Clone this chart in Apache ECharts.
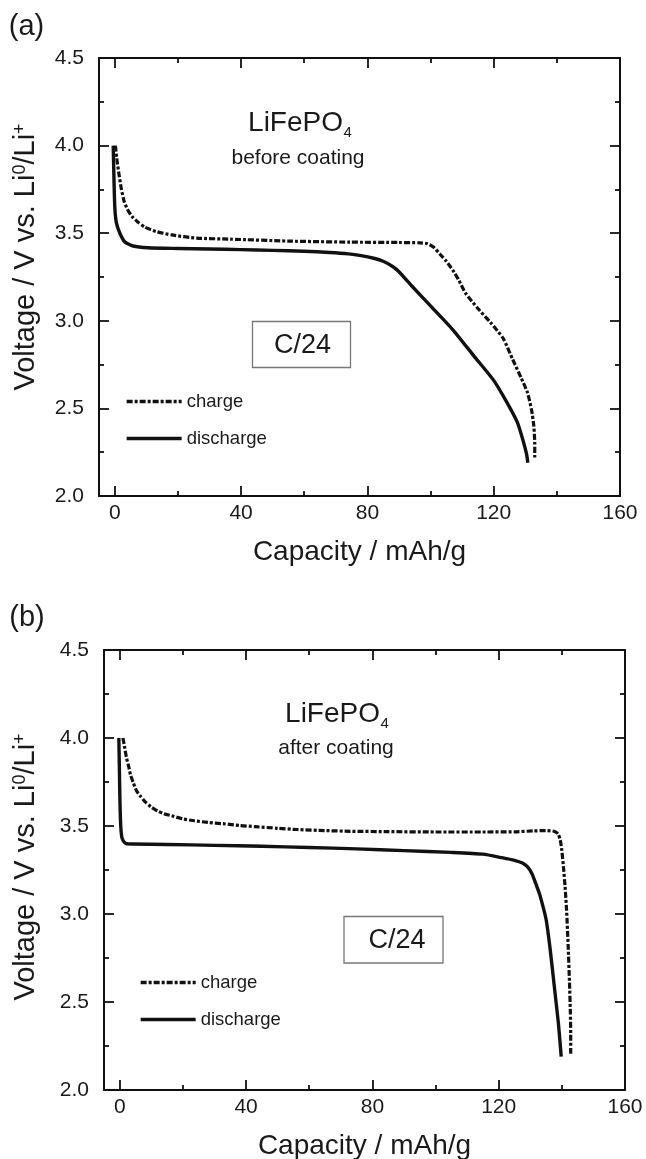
<!DOCTYPE html>
<html>
<head>
<meta charset="utf-8">
<script src="https://cdn.jsdelivr.net/npm/echarts@6/dist/echarts.min.js"></script>
<style>
  html, body { margin: 0; padding: 0; background: #ffffff; }
  #chart { width: 646px; height: 1159px; }
</style>
</head>
<body>
<div id="chart"></div>
<script>
// Capacity axis ticks (mAh/g)
const capTicks = [0, 40, 80, 120, 160];
const capMinorTicks = [20, 60, 100, 140];

// (a) LiFePO4 before coating, C/24
const chargeBeforeCap = [0.2, 0.6, 1.3, 2.1, 3.0, 4.2, 5.5, 7.2, 9.5, 13, 18, 26, 36.6, 55, 74.5, 90, 96.7, 99, 101, 103, 105, 107, 109, 111, 115, 119, 123, 126, 128.8, 130.7, 132, 132.7, 133, 133];
const chargeBeforeV = [4.00, 3.93, 3.84, 3.75, 3.68, 3.63, 3.595, 3.565, 3.535, 3.51, 3.49, 3.472, 3.466, 3.455, 3.449, 3.447, 3.445, 3.44, 3.42, 3.38, 3.34, 3.29, 3.23, 3.16, 3.07, 2.99, 2.90, 2.78, 2.67, 2.59, 2.49, 2.40, 2.30, 2.22];
const dischargeBeforeCap = [-0.5, -0.3, 0, 0.5, 1.6, 3.2, 5.8, 10.5, 20, 30, 40, 50, 60, 68, 74, 78, 82, 85, 88, 90, 94, 100, 107, 113.7, 120, 124, 127.5, 129.4, 130.4, 130.8];
const dischargeBeforeV = [4.00, 3.84, 3.65, 3.56, 3.50, 3.45, 3.427, 3.417, 3.413, 3.41, 3.406, 3.402, 3.397, 3.39, 3.382, 3.372, 3.357, 3.34, 3.31, 3.28, 3.20, 3.085, 2.95, 2.80, 2.66, 2.54, 2.42, 2.31, 2.24, 2.19];

// (b) LiFePO4 after coating, C/24
const chargeAfterCap = [1.0, 1.5, 2.1, 2.8, 3.4, 4.3, 5.3, 6.5, 7.9, 9.8, 11.9, 14, 17, 20, 23.6, 28, 32.7, 38, 43, 50, 56, 65, 73, 85, 100, 115, 125, 131, 135, 137.5, 138.8, 139.5, 140, 140.5, 141, 141.5, 142, 142.4, 142.7, 142.8, 142.8];
const chargeAfterV = [4.00, 3.95, 3.89, 3.84, 3.79, 3.745, 3.70, 3.67, 3.64, 3.61, 3.586, 3.57, 3.555, 3.54, 3.53, 3.52, 3.513, 3.503, 3.496, 3.487, 3.48, 3.474, 3.47, 3.468, 3.466, 3.466, 3.467, 3.472, 3.474, 3.47, 3.455, 3.42, 3.36, 3.27, 3.16, 3.02, 2.82, 2.62, 2.44, 2.32, 2.20];
const dischargeAfterCap = [-0.3, -0.15, 0.05, 0.3, 0.6, 1.1, 2, 4, 15, 30, 45, 60, 75, 90, 105, 115, 121, 125, 127.5, 129, 130.5, 132, 133, 135, 136.3, 137.6, 138.9, 139.8];
const dischargeAfterV = [4.00, 3.85, 3.64, 3.50, 3.44, 3.415, 3.40, 3.398, 3.395, 3.39, 3.385, 3.378, 3.37, 3.36, 3.35, 3.34, 3.32, 3.305, 3.29, 3.27, 3.23, 3.16, 3.11, 2.97, 2.80, 2.59, 2.38, 2.19];

const seriesNames = ['charge', 'discharge'];

const FONT = 'Liberation Sans, Arial, Helvetica, sans-serif';
const INK = '#111111';
const TEXT = '#1a1a1a';

function zip(xs, ys) { return xs.map((x, i) => [x, ys[i]]); }

function xAxes(gridIndex) {
  const base = { gridIndex, type: 'value', min: -5, max: 160, splitLine: { show: false } };
  const line = { show: true, onZero: false, lineStyle: { color: INK, width: 2 } };
  const tickStyle = { color: INK, width: 1.8 };
  return [
    Object.assign({}, base, {
      position: 'bottom', axisLine: line,
      axisTick: { show: true, inside: true, length: 10, customValues: capTicks, lineStyle: tickStyle },
      axisLabel: { customValues: capTicks, fontSize: 21, color: TEXT, fontFamily: FONT, margin: 7 }
    }),
    Object.assign({}, base, {
      position: 'bottom', axisLine: { show: false },
      axisTick: { show: true, inside: true, length: 5, customValues: capMinorTicks, lineStyle: tickStyle },
      axisLabel: { show: false }
    }),
    Object.assign({}, base, {
      position: 'top', axisLine: line,
      axisTick: { show: true, inside: true, length: 10, customValues: capTicks, lineStyle: tickStyle },
      axisLabel: { show: false }
    }),
    Object.assign({}, base, {
      position: 'top', axisLine: { show: false },
      axisTick: { show: true, inside: true, length: 5, customValues: capMinorTicks, lineStyle: tickStyle },
      axisLabel: { show: false }
    })
  ];
}

function yAxes(gridIndex) {
  const base = {
    gridIndex, type: 'value', min: 2, max: 4.5, interval: 0.5,
    axisLine: { show: true, onZero: false, lineStyle: { color: INK, width: 2 } },
    axisTick: { show: true, inside: true, length: 10, lineStyle: { color: INK, width: 1.8 } },
    minorTick: { show: true, splitNumber: 2, length: 5, lineStyle: { color: INK, width: 1.8 } },
    splitLine: { show: false }, minorSplitLine: { show: false }
  };
  return [
    Object.assign({}, base, {
      position: 'left',
      axisLabel: { fontSize: 21, color: TEXT, fontFamily: FONT, margin: 15, formatter: v => v.toFixed(1) }
    }),
    Object.assign({}, base, { position: 'right', axisLabel: { show: false } })
  ];
}

function curve(name, cap, volt, xIdx, yIdx, dashed) {
  return {
    name, type: 'line', xAxisIndex: xIdx, yAxisIndex: yIdx,
    data: zip(cap, volt), symbol: 'none', showSymbol: false, animation: false,
    smooth: 0.2,
    lineStyle: { color: INK, width: dashed ? 3.2 : 3.4, type: dashed ? [6, 2, 3, 2] : 'solid', join: 'round' },
    // no point markers: keep the legend swatch line-only
    itemStyle: { color: INK, opacity: 0 }
  };
}

function legendAt(left, top) {
  return {
    data: seriesNames, orient: 'vertical', left, top, padding: 0,
    itemWidth: 55, itemHeight: 14, itemGap: 18, selectedMode: false,
    itemStyle: { opacity: 0 },
    lineStyle: { width: 3.3 },
    textStyle: { fontSize: 18.5, color: TEXT, fontFamily: FONT }
  };
}

function txt(x, y, text, size, opts) {
  return {
    type: 'text', x, y, silent: true,
    style: Object.assign({ text, fontSize: size, fontFamily: FONT, fill: TEXT, align: 'center', verticalAlign: 'middle' }, opts || {})
  };
}

function yTitle(x, y) {
  return {
    type: 'text', x, y, rotation: Math.PI / 2, silent: true,
    style: {
      text: 'Voltage / V vs. Li{s|0}/Li{s|+}', fontSize: 29, fontFamily: FONT, fill: TEXT,
      align: 'center', verticalAlign: 'middle',
      rich: { s: { fontSize: 18, fontFamily: FONT, fill: TEXT, verticalAlign: 'top' } }
    }
  };
}

const option = {
  backgroundColor: '#ffffff',
  animation: false,
  grid: [
    { left: 99, top: 58, width: 521, height: 438, outerBoundsMode: 'none' },
    { left: 104, top: 650, width: 521, height: 440, outerBoundsMode: 'none' }
  ],
  xAxis: xAxes(0).concat(xAxes(1)),
  yAxis: yAxes(0).concat(yAxes(1)),
  legend: [legendAt(125, 392), legendAt(139, 973)],
  series: [
    curve(seriesNames[0], chargeBeforeCap, chargeBeforeV, 0, 0, true),
    curve(seriesNames[1], dischargeBeforeCap, dischargeBeforeV, 0, 0, false),
    curve(seriesNames[0], chargeAfterCap, chargeAfterV, 4, 2, true),
    curve(seriesNames[1], dischargeAfterCap, dischargeAfterV, 4, 2, false)
  ],
  graphic: { elements: [
    // panel letters
    txt(26.5, 27, '(a)', 29),
    txt(27, 617.5, '(b)', 29),
    // axis titles
    txt(359.5, 552, 'Capacity / mAh/g', 28),
    txt(364.5, 1146, 'Capacity / mAh/g', 28),
    yTitle(25.5, 257),
    yTitle(25.5, 867),
    // panel (a) annotations
    txt(343, 123.3, 'LiFePO', 28, { align: 'right' }),
    txt(343.5, 132.6, '4', 15, { align: 'left' }),
    txt(298, 158, 'before coating', 21),
    { type: 'rect', silent: true, shape: { x: 252.5, y: 321.5, width: 98, height: 46 },
      style: { fill: 'none', stroke: '#777777', lineWidth: 1.3 } },
    txt(302.5, 346, 'C/24', 27),
    // panel (b) annotations
    txt(380, 714.2, 'LiFePO', 28, { align: 'right' }),
    txt(380.5, 723.5, '4', 15, { align: 'left' }),
    txt(336, 748.7, 'after coating', 21),
    { type: 'rect', silent: true, shape: { x: 344, y: 916.5, width: 99, height: 46.5 },
      style: { fill: 'none', stroke: '#777777', lineWidth: 1.3 } },
    txt(397, 940.3, 'C/24', 27)
  ] }
};

const chart = echarts.init(document.getElementById('chart'), null, { renderer: 'canvas' });
chart.setOption(option);
</script>
</body>
</html>
